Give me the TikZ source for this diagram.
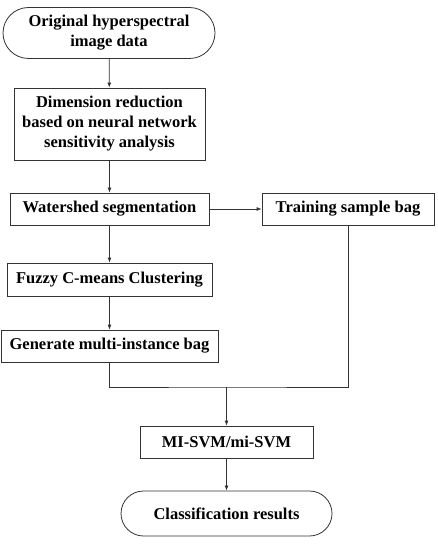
\documentclass[tikz,border=0pt]{standalone}
\usepackage{fontspec}
\setmainfont{Liberation Serif}
\usetikzlibrary{shapes.misc,arrows.meta}

\begin{document}
\begin{tikzpicture}[
    x=1pt, y=-1pt,
    box/.style={draw=black!80, line width=0.8pt, fill=white, align=center, inner sep=0pt, font=\fontsize{16.5}{20}\selectfont\bfseries},
    term/.style={box, rounded rectangle},
    arr/.style={-{Latex[length=5pt,width=4pt]}, line width=0.8pt, draw=black!80},
    line/.style={line width=0.8pt, draw=black!80}
]
    \useasboundingbox (0,0) rectangle (437,545);

    \node[term, minimum width=212pt, minimum height=51pt] (orig) at (109,33) {Original hyperspectral\\image data};
    \node[box, minimum width=191pt, minimum height=72pt] (dim) at (109.5,124) {Dimension reduction\\based on neural network\\sensitivity analysis};
    \node[box, minimum width=199pt, minimum height=32pt] (ws) at (109.5,209) {Watershed segmentation};
    \node[box, minimum width=172pt, minimum height=32pt] (train) at (348,209) {Training sample bag};
    \node[box, minimum width=205pt, minimum height=33pt] (fcm) at (109.5,279.5) {Fuzzy C-means Clustering};
    \node[box, minimum width=217pt, minimum height=32pt] (gen) at (109.5,346) {Generate multi-instance bag};
    \node[box, minimum width=173pt, minimum height=32pt] (svm) at (226.5,442) {MI-SVM/mi-SVM};
    \node[term, minimum width=211pt, minimum height=45pt] (cls) at (226.5,513.5) {Classification results};
    \coordinate (merge) at (226.5,387);

    \draw[arr] (orig) -- (dim);
    \draw[arr] (dim) -- (ws);
    \draw[arr] (ws) -- (train);
    \draw[arr] (ws) -- (fcm);
    \draw[arr] (fcm) -- (gen);
    \draw[line] (gen.south) |- (merge) -| (train.south);
    \draw[arr] (merge) -- (svm);
    \draw[arr] (svm) -- (cls);
\end{tikzpicture}
\end{document}
